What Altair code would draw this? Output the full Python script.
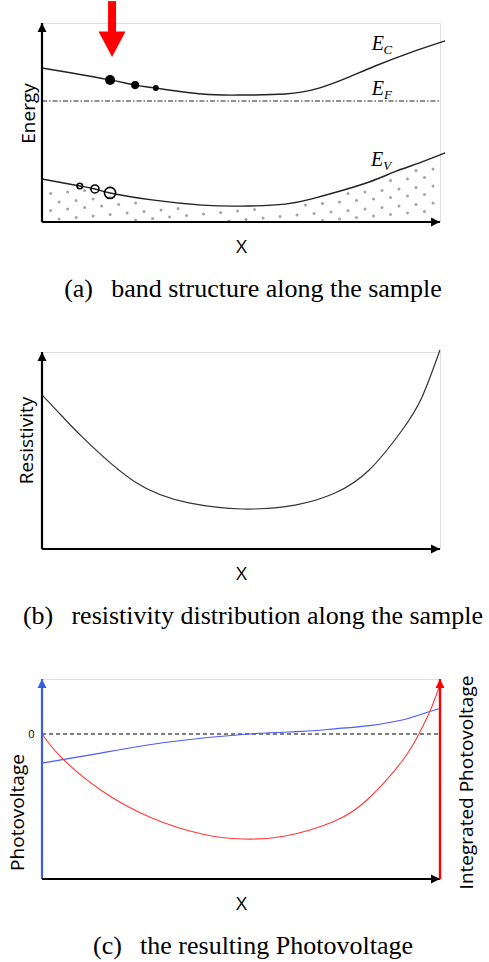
import altair as alt
import numpy as np
import pandas as pd

SANS = "Open Sans"
SERIF = "Liberation Serif"

# ---------------- (a) band structure ----------------
ec_x = [0, 7.5, 17.1, 23.4, 28.6, 40.2, 50.3, 61.1, 69.6, 76.6, 83.7, 92.2, 101.3]
ec_y = [77.4, 74.9, 71.4, 68.8, 67.3, 64.3, 63.8, 64.3, 67.3, 72.4, 78.4, 84.9, 91.0]
ev_x = [0, 9.5, 13.3, 17.1, 27.6, 40.2, 50.3, 61.1, 67.8, 73.6, 82.2, 88.7, 94.7, 101.3]
ev_y = [21.6, 18.1, 16.6, 14.6, 11.1, 8.5, 8.0, 9.0, 11.6, 14.8, 20.1, 25.3, 29.6, 34.7]
ef_level = 60.8

electron_x = [17.1, 23.4, 28.6]
electron_y = [71.4, 68.8, 67.3]
electron_size = [100, 66, 36]
hole_x = [9.5, 13.3, 17.1]
hole_y = [18.1, 16.6, 14.6]
hole_size = [30, 64, 125]

band_label_x = [84.4, 84.4, 84.2]
band_label_y = [89.2, 66.8, 31.4]
band_label_sub = ["C", "F", "V"]

light_x = 17.6
light_top, light_tail, light_tip = 111.0, 95.0, 82.9

# ---------------- (b) resistivity ----------------
res_x = [0, 5.0, 10.1, 23.4, 36.9, 50.3, 63.6, 73.6, 82.2, 90.5, 95.5, 100]
res_y = [78.2, 67.5, 56.9, 34.0, 23.4, 20.3, 22.3, 28.4, 40.1, 60.4, 77.2, 101.0]

# ---------------- (c) photovoltage ----------------
pv_x = [0, 15.1, 31.9, 52.0, 65.3, 73.6, 82.2, 90.5, 94.7, 99.7]
pv_y = [-14.6, -9.4, -4.0, 0, 1.3, 2.6, 4.2, 7.0, 9.5, 12.6]
ipv_x = [0, 5.0, 15.1, 27.6, 40.2, 50.3, 61.1, 73.6, 82.2, 90.5, 94.7, 97.5, 99.7]
ipv_y = [0, -12, -28.5, -42, -50, -52.5, -51, -43.5, -32, -13.5, 0, 11.5, 23]
pv_domain = [-72.5, 27.5]

ARROW_UP = "M-1,2L1,2L0,0Z"
ARROW_RIGHT = "M-2,-1L-2,1L0,0Z"
ARROW_DOWN = "M-1,-1.9L1,-1.9L0,0Z"

W = 398
XS = alt.Scale(domain=[0, 100], nice=False, zero=False)
TITLE_SIZE = 19


def X(field, axis=None):
    return alt.X(field, type="quantitative", scale=XS, axis=axis)


def Y(field, scale, axis=None):
    return alt.Y(field, type="quantitative", scale=scale, axis=axis)


x_axis = alt.Axis(title="X", labels=False, ticks=False, domain=False, grid=False,
                  titleFont=SANS, titleFontSize=TITLE_SIZE, titleFontWeight="normal",
                  titleColor="black", titlePadding=15)


def y_axis(title, pad, ty):
    return alt.Axis(title=title, labels=False, ticks=False, domain=False, grid=False,
                    titleFont=SANS, titleFontSize=TITLE_SIZE, titleFontWeight="normal",
                    titleColor="black", titlePadding=pad, titleY=ty)


def caption(text):
    return alt.TitleParams(text=text, orient="bottom", font=SERIF, fontSize=26,
                           fontWeight="normal", color="black", anchor="middle",
                           dx=12, offset=20)


def frame(ys, y0, y1, color_y="black", color_x="black", axis_y=None):
    """Axis lines with arrowheads drawn as marks."""
    vline = pd.DataFrame({"x": [0], "y": [y0], "y2": [y1]})
    hline = pd.DataFrame({"x": [0], "x2": [100], "y": [y0]})
    layers = [
        alt.Chart(vline).mark_rule(color=color_y, strokeWidth=2.2).encode(
            x=X("x", x_axis), y=Y("y", ys, axis_y), y2="y2"),
        alt.Chart(hline).mark_rule(color=color_x, strokeWidth=2).encode(
            x=X("x"), x2="x2", y=Y("y", ys)),
        alt.Chart(pd.DataFrame({"x": [0], "y": [y1]})).mark_point(
            shape=ARROW_UP, filled=True, size=81, color=color_y, opacity=1).encode(
            x=X("x"), y=Y("y", ys)),
        alt.Chart(pd.DataFrame({"x": [100], "y": [y0]})).mark_point(
            shape=ARROW_RIGHT, filled=True, size=81, color=color_x, opacity=1).encode(
            x=X("x"), y=Y("y", ys)),
    ]
    return layers


# ---------- panel (a) ----------
ys_a = alt.Scale(domain=[0, 100], nice=False, zero=False)

# stipple texture filling the valence band
cols, rows = np.meshgrid(np.arange(-12, 14), np.arange(-3, 11))
sx = (47.0 + 4.27 * cols - 2.135 * (rows % 2)).ravel()
sy = (0.5 + 4.27 * rows + 0.754 * cols).ravel()
floor = np.interp(sx, ev_x, ev_y)
keep = (sx > 0.8) & (sx < 99.6) & (sy > 0.3) & (sy < floor - 1.8)
stipple = pd.DataFrame({"x": sx[keep], "y": sy[keep]})

ec = pd.DataFrame({"x": ec_x, "y": ec_y})
ev = pd.DataFrame({"x": ev_x, "y": ev_y})
electrons = pd.DataFrame({"x": electron_x, "y": electron_y, "s": electron_size})
holes = pd.DataFrame({"x": hole_x, "y": hole_y, "s": hole_size})
labels = pd.DataFrame({"x": band_label_x, "y": band_label_y, "sub": band_label_sub})
light = pd.DataFrame({"x": [light_x], "y": [light_top], "y2": [light_tail], "tip": [light_tip]})

panel_a = alt.layer(
    alt.Chart(stipple).mark_circle(size=9, color="#a4a4a4", opacity=1).encode(
        x=X("x"), y=Y("y", ys_a)),
    alt.Chart(ec).mark_line(color="#222222", strokeWidth=1.4, interpolate="natural").encode(
        x=X("x"), y=Y("y", ys_a)),
    alt.Chart(ev).mark_line(color="#222222", strokeWidth=1.4, interpolate="natural").encode(
        x=X("x"), y=Y("y", ys_a)),
    alt.Chart(pd.DataFrame({"x": [0], "x2": [100], "y": [ef_level]})).mark_rule(
        color="#222222", strokeWidth=1, strokeDash=[5, 2, 1.5, 2]).encode(
        x=X("x"), x2="x2", y=Y("y", ys_a)),
    alt.Chart(electrons).mark_circle(color="black", opacity=1).encode(
        x=X("x"), y=Y("y", ys_a), size=alt.Size("s:Q", scale=None)),
    alt.Chart(holes).mark_point(filled=False, color="black", strokeWidth=1.6, opacity=1).encode(
        x=X("x"), y=Y("y", ys_a), size=alt.Size("s:Q", scale=None)),
    *frame(ys_a, 0, 100, axis_y=y_axis("Energy", 4, 90)),
    alt.Chart(light).mark_rule(color="#ff0000", strokeWidth=8, strokeCap="butt").encode(
        x=X("x"), y=Y("y", ys_a), y2="y2"),
    alt.Chart(light).mark_point(shape=ARROW_DOWN, filled=True, size=729, color="#ff0000",
                                opacity=1).encode(x=X("x"), y=Y("tip", ys_a)),
    alt.Chart(labels).mark_text(font=SERIF, fontStyle="italic", fontSize=20,
                                color="black", align="center", baseline="middle").encode(
        x=X("x"), y=Y("y", ys_a), text=alt.value("E")),
    alt.Chart(labels).mark_text(font=SERIF, fontStyle="italic", fontSize=13, dx=10, dy=6,
                                color="black", align="center", baseline="middle").encode(
        x=X("x"), y=Y("y", ys_a), text="sub:N"),
).resolve_axis(x="independent", y="independent").properties(
    width=W, height=199,
    title=caption("(a)\u2002\u2009band structure along the sample"))

# ---------- panel (b) ----------
ys_b = alt.Scale(domain=[0, 100], nice=False, zero=False)
res = pd.DataFrame({"x": res_x, "y": res_y})
panel_b = alt.layer(
    alt.Chart(res).mark_line(color="#333333", strokeWidth=1.2, interpolate="natural").encode(
        x=X("x"), y=Y("y", ys_b)),
    *frame(ys_b, 0, 100, axis_y=y_axis("Resistivity", 6, 88)),
).resolve_axis(x="independent", y="independent").properties(
    width=W, height=197,
    title=caption("(b)\u2002\u2009resistivity distribution along the sample"))

# ---------- panel (c) ----------
ys_c = alt.Scale(domain=pv_domain, nice=False, zero=False)
pv = pd.DataFrame({"x": pv_x, "y": pv_y})
ipv = pd.DataFrame({"x": ipv_x, "y": ipv_y})
BLUE = "#3b5ce6"
RED = "#ff0000"
left_axis = alt.Axis(title="Photovoltage", values=[0], format="d", labels=True, ticks=False,
                     domain=False, grid=False, labelFont=SANS, labelFontSize=11,
                     labelColor="black", labelPadding=8, titleFont=SANS,
                     titleFontSize=TITLE_SIZE, titleFontWeight="normal", titleColor="black",
                     titlePadding=0, titleY=133)
right_axis = alt.Axis(title="Integrated Photovoltage", orient="right", labels=False, ticks=False,
                      domain=False, grid=False, titleFont=SANS, titleFontSize=TITLE_SIZE,
                      titleFontWeight="normal", titleColor="black", titlePadding=17,
                      titleAngle=270, titleBaseline="top", titleY=103)
y_lo, y_hi = pv_domain
panel_c = alt.layer(
    alt.Chart(pd.DataFrame({"x": [0], "x2": [100], "y": [0]})).mark_rule(
        color="black", strokeWidth=1.2, strokeDash=[4, 3]).encode(
        x=X("x"), x2="x2", y=Y("y", ys_c)),
    alt.Chart(pv).mark_line(color="#4d5cf5", strokeWidth=1.2, interpolate="natural").encode(
        x=X("x"), y=Y("y", ys_c, left_axis)),
    alt.Chart(ipv).mark_line(color="#ff3b3b", strokeWidth=1.1, interpolate="natural").encode(
        x=X("x"), y=Y("y", ys_c, right_axis)),
    *frame(ys_c, y_lo, y_hi, color_y=BLUE),
    alt.Chart(pd.DataFrame({"x": [100], "y": [y_lo], "y2": [y_hi]})).mark_rule(
        color=RED, strokeWidth=2.4).encode(x=X("x"), y=Y("y", ys_c), y2="y2"),
    alt.Chart(pd.DataFrame({"x": [100], "y": [y_hi]})).mark_point(
        shape=ARROW_UP, filled=True, size=81, color=RED, opacity=1).encode(
        x=X("x"), y=Y("y", ys_c)),
).resolve_axis(x="independent", y="independent").properties(
    width=W, height=200,
    title=caption("(c)\u2002\u2009the resulting Photovoltage"))

chart = alt.vconcat(panel_a, panel_b, panel_c, spacing=44).properties(
    padding={"left": 8, "top": -4, "right": 0, "bottom": 0}
).configure_view(stroke=None).configure(background="white")

chart.save("out.html", embed_options={"renderer": "svg", "actions": False})
